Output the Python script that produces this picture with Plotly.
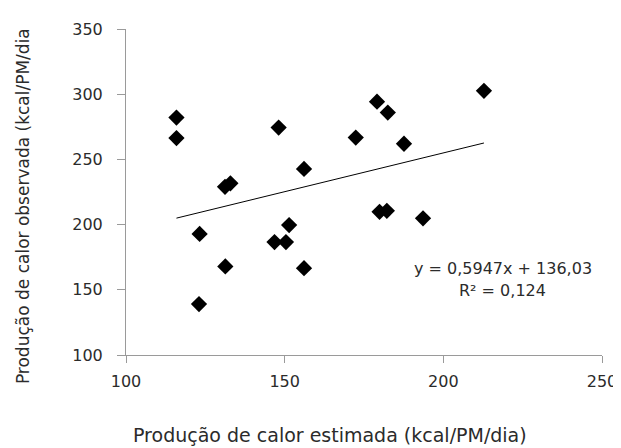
import plotly.graph_objects as go

# Data
x_est = [115.9, 115.9, 148.1, 156.1, 131.2, 132.9, 123.2, 151.4, 146.8, 150.4,
         131.3, 156.1, 123.0, 212.8, 179.1, 182.5, 172.4, 187.6, 179.9, 182.2, 193.6]
y_obs = [282.1, 266.4, 274.4, 242.7, 229.0, 231.7, 192.8, 199.6, 186.6, 186.6,
         167.9, 166.6, 139.1, 302.6, 294.3, 285.9, 266.7, 262.0, 209.8, 210.6, 204.8]

slope = 0.5947
intercept = 136.03
r2_text = "R² = 0,124"
eq_text = "y = 0,5947x + 136,03"

x_ticks = [100, 150, 200, 250]
y_ticks = [100, 150, 200, 250, 300, 350]

x_title = "Produção de calor estimada (kcal/PM/dia)"
y_title = "Produção de calor observada (kcal/PM/dia"

FONT = "DejaVu Sans"
TXT = "#2b2b2b"
AX = "#9a9a9a"

fig = go.Figure()

fig.add_trace(go.Scatter(
    x=x_est, y=y_obs, mode="markers",
    marker=dict(symbol="diamond", size=12.5, color="black"),
    showlegend=False, hoverinfo="x+y",
))

xmin, xmax = min(x_est), max(x_est)
fig.add_trace(go.Scatter(
    x=[xmin, xmax], y=[slope * xmin + intercept, slope * xmax + intercept],
    mode="lines", line=dict(color="black", width=1),
    showlegend=False, hoverinfo="skip",
))

# page body has an 8px default margin; margins compensate for it
fig.update_layout(
    width=621, height=448,
    margin=dict(l=118, r=25, t=13, b=101),
    paper_bgcolor="white", plot_bgcolor="white",
    font=dict(family=FONT, color=TXT, size=16),
    xaxis=dict(
        range=[100, 250], tickvals=x_ticks, ticktext=[str(v) for v in x_ticks],
        showgrid=False, zeroline=False, showline=True, linecolor=AX, linewidth=1,
        ticks="outside", ticklen=7, tickcolor=AX, tickwidth=1,
        tickfont=dict(family=FONT, size=16, color=TXT), ticklabelstandoff=5,
        fixedrange=True,
    ),
    yaxis=dict(
        range=[100, 350], tickvals=y_ticks, ticktext=[str(v) for v in y_ticks],
        showgrid=False, zeroline=False, showline=True, linecolor=AX, linewidth=1,
        ticks="outside", ticklen=8, tickcolor=AX, tickwidth=1,
        tickfont=dict(family=FONT, size=16, color=TXT), ticklabelstandoff=11,
        fixedrange=True,
    ),
    annotations=[
        dict(text=eq_text, x=218.8, y=166.6, xref="x", yref="y",
             showarrow=False, xanchor="center", yanchor="middle",
             font=dict(family=FONT, size=16, color=TXT)),
        dict(text=r2_text, x=218.8, y=149.4, xref="x", yref="y",
             showarrow=False, xanchor="center", yanchor="middle",
             font=dict(family=FONT, size=16, color=TXT)),
        dict(text=x_title, x=0.428, y=-0.2455, xref="paper", yref="paper",
             showarrow=False, xanchor="center", yanchor="middle",
             font=dict(family=FONT, size=19, color=TXT)),
        dict(text=y_title, x=-0.2176, y=0.458, xref="paper", yref="paper",
             showarrow=False, xanchor="center", yanchor="middle", textangle=-90,
             font=dict(family=FONT, size=17, color=TXT)),
    ],
)

fig.write_html("out.html")
